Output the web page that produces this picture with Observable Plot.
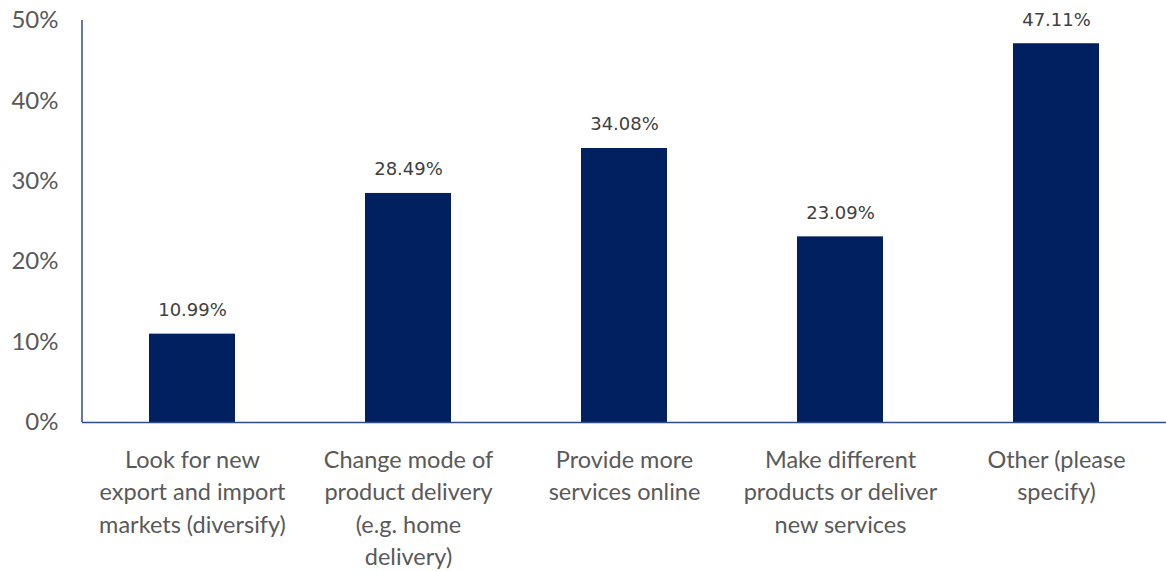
<!DOCTYPE html>
<html>
<head>
<meta charset="utf-8">
<script src="https://cdn.jsdelivr.net/npm/d3@7"></script>
<script src="https://cdn.jsdelivr.net/npm/@observablehq/plot@0.6"></script>
<style>
  html, body { margin: 0; padding: 0; background: #fff; }
  #chart { width: 1166px; height: 571px; }
</style>
</head>
<body>
<div id="chart"></div>
<script>
const categories = [
  "Look for new\nexport and import\nmarkets (diversify)",
  "Change mode of\nproduct delivery\n(e.g. home\ndelivery)",
  "Provide more\nservices online",
  "Make different\nproducts or deliver\nnew services",
  "Other (please\nspecify)"
];
const values = [0.1099, 0.2849, 0.3408, 0.2309, 0.4711];
const yTicks = [0, 0.1, 0.2, 0.3, 0.4, 0.5];

const data = categories.map((c, i) => ({category: c, value: values[i]}));
const barColor = "#002060";
const axisColor = "#2F4B8C";
const textColor = "#595959";

const plot = Plot.plot({
  width: 1166,
  height: 571,
  marginLeft: 82,
  marginRight: 0,
  marginTop: 20,
  marginBottom: 149,
  style: {background: "#fff"},
  x: {domain: categories, paddingInner: 0.6, paddingOuter: 0.3, label: null},
  y: {domain: [0, 0.5], label: null},
  marks: [
    Plot.barY(data, {x: "category", y: "value", fill: barColor}),
    Plot.text(data, {x: "category", y: "value", text: d => (d.value * 100).toFixed(2) + "%", dy: -24, fontSize: 18, fontFamily: "DejaVu Sans", fill: "#404040"}),
    Plot.axisY({ticks: yTicks, tickSize: 0, tickPadding: 24, tickFormat: d => Math.round(d * 100) + "%", fontSize: 24, fontFamily: "Lato", fill: textColor, label: null}),
    Plot.axisX({tickSize: 0, tickPadding: 22, fontSize: 23.5, fontFamily: "Lato", fill: textColor, lineHeight: 1.383, label: null, lineAnchor: "top"}),
    Plot.ruleY([0], {stroke: axisColor, strokeWidth: 1.5})
  ]
});
document.getElementById("chart").appendChild(plot);

// left axis line drawn with the plot's own y scale
const y = plot.scale("y");
d3.select(plot).append("line")
  .attr("x1", 82).attr("x2", 82)
  .attr("y1", y.apply(0.5)).attr("y2", y.apply(0))
  .attr("stroke", axisColor).attr("stroke-width", 1.5);
</script>
</body>
</html>
